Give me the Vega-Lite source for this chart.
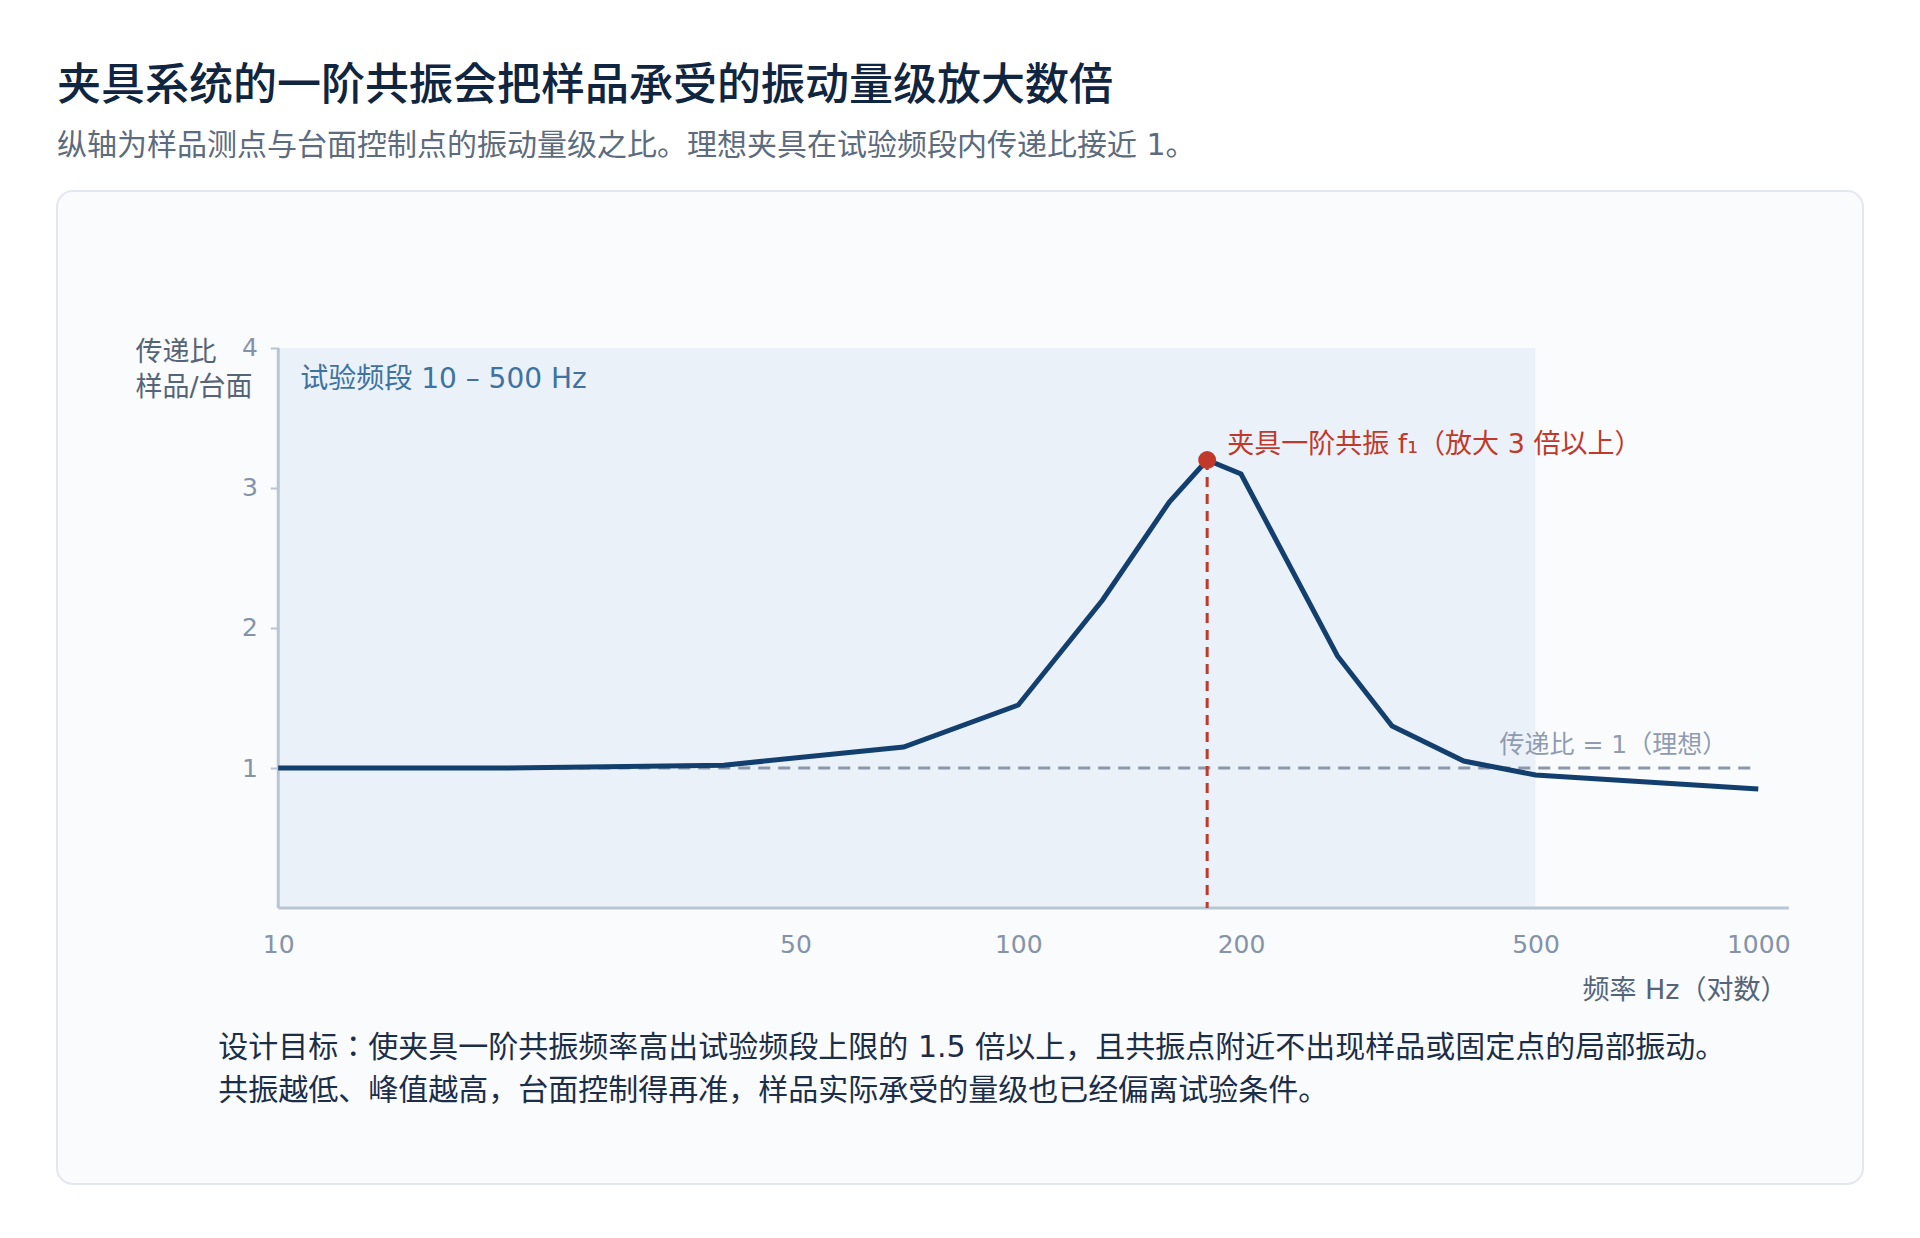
{
  "$schema": "https://vega.github.io/schema/vega-lite/v6.json",
  "width": 1806,
  "height": 993,
  "autosize": {"type": "none"},
  "padding": {"left": 57, "top": 191, "right": 57, "bottom": 54},
  "background": "#ffffff",
  "config": {
    "font": "DejaVu Sans, Noto Sans CJK JP, sans-serif",
    "view": {"fill": "#f9fbfd", "stroke": "#e3e8ef", "strokeWidth": 2, "cornerRadius": 16}
  },
  "title": {
    "text": "夹具系统的一阶共振会把样品承受的振动量级放大数倍",
    "subtitle": "纵轴为样品测点与台面控制点的振动量级之比。理想夹具在试验频段内传递比接近 1。",
    "anchor": "start",
    "frame": "group",
    "fontSize": 44,
    "fontWeight": 500,
    "color": "#10253f",
    "subtitleFontSize": 30,
    "subtitleColor": "#5d6b7e",
    "subtitlePadding": 22,
    "offset": 30
  },
  "datasets": {
    "curve": [
      {"f": 10, "v": 1.0},
      {"f": 20, "v": 1.0},
      {"f": 40, "v": 1.02},
      {"f": 70, "v": 1.15},
      {"f": 100, "v": 1.45},
      {"f": 130, "v": 2.2},
      {"f": 160, "v": 2.9},
      {"f": 180, "v": 3.2},
      {"f": 200, "v": 3.1},
      {"f": 270, "v": 1.8},
      {"f": 320, "v": 1.3},
      {"f": 400, "v": 1.05},
      {"f": 500, "v": 0.95},
      {"f": 1000, "v": 0.85}
    ],
    "band": [{"start": 10, "end": 500, "label": "试验频段 10 – 500 Hz"}],
    "peak": [{"f": 180, "v": 3.2, "label": "夹具一阶共振 f₁（放大 3 倍以上）"}],
    "ref": [{"from": 10, "to": 1000, "v": 1, "label": "传递比 = 1（理想）"}],
    "note": [{"text": "设计目标：使夹具一阶共振频率高出试验频段上限的 1.5 倍以上，且共振点附近不出现样品或固定点的局部振动。\n共振越低、峰值越高，台面控制得再准，样品实际承受的量级也已经偏离试验条件。"}]
  },
  "layer": [
    {
      "data": {"name": "band"},
      "mark": {"type": "rect", "fill": "#eaf1f9"},
      "encoding": {
        "x": {"field": "start", "type": "quantitative",
              "scale": {"type": "log", "domain": [5.0235, 1385.3], "nice": false, "zero": false},
              "axis": {"orient": "bottom", "offset": -276, "values": [10, 50, 100, 200, 500, 1000], "format": "d",
                       "domain": false, "grid": false, "ticks": false, "tickSize": 0, "labelPadding": 24,
                       "labelFontSize": 25, "labelColor": "#8593a8", "labelFlush": false, "labelOverlap": false,
                       "labelFont": "DejaVu Sans",
                       "title": "频率 Hz（对数）", "titleX": 1730, "titleY": 82, "titleAlign": "right",
                       "titleBaseline": "middle", "titleAngle": 0, "titleFontSize": 27, "titleFontWeight": "normal",
                       "titleColor": "#566477"}},
        "x2": {"field": "end"},
        "y": {"datum": 0, "type": "quantitative",
              "scale": {"domain": [-1.9714, 5.1214], "nice": false, "zero": false},
              "axis": {"orient": "left", "offset": -221.3, "values": [1, 2, 3, 4], "format": "d", "domain": false, "grid": false,
                       "ticks": true, "tickSize": 8, "tickWidth": 2, "tickColor": "#b9c5d3", "labelPadding": 13,
                       "labelFontSize": 25, "labelColor": "#8593a8", "labelFont": "DejaVu Sans",
                       "title": ["传递比", "样品/台面"], "titleAngle": 0, "titleAlign": "left", "titleBaseline": "middle",
                       "titleX": -143.3, "titleY": 161, "titleFontSize": 27, "titleFontWeight": "normal",
                       "titleColor": "#566477", "titleLineHeight": 35}},
        "y2": {"datum": 4}
      }
    },
    {
      "data": {"name": "band"},
      "mark": {"type": "text", "align": "left", "baseline": "middle", "dx": 22, "dy": 32, "fontSize": 28, "color": "#3e73a0"},
      "encoding": {
        "x": {"field": "start", "type": "quantitative"},
        "y": {"datum": 4, "type": "quantitative"},
        "text": {"field": "label"}
      }
    },
    {
      "data": {"name": "band"},
      "mark": {"type": "rule", "color": "#b9c5d3", "strokeWidth": 3},
      "encoding": {
        "x": {"datum": 10, "type": "quantitative"},
        "y": {"datum": 0, "type": "quantitative"},
        "y2": {"datum": 4}
      }
    },
    {
      "data": {"name": "band"},
      "mark": {"type": "rule", "color": "#b9c5d3", "strokeWidth": 3},
      "encoding": {
        "x": {"datum": 10, "type": "quantitative"},
        "x2": {"datum": 1100},
        "y": {"datum": 0, "type": "quantitative"}
      }
    },
    {
      "data": {"name": "ref"},
      "mark": {"type": "rule", "color": "#8c98aa", "strokeWidth": 3, "strokeDash": [12, 8]},
      "encoding": {
        "x": {"field": "from", "type": "quantitative"},
        "x2": {"field": "to"},
        "y": {"field": "v", "type": "quantitative"}
      }
    },
    {
      "data": {"name": "ref"},
      "mark": {"type": "text", "align": "right", "baseline": "middle", "dx": -31, "dy": -23, "fontSize": 25, "color": "#8e9bb0"},
      "encoding": {
        "x": {"field": "to", "type": "quantitative"},
        "y": {"field": "v", "type": "quantitative"},
        "text": {"field": "label"}
      }
    },
    {
      "data": {"name": "peak"},
      "mark": {"type": "rule", "color": "#c0392b", "strokeWidth": 3, "strokeDash": [10, 7]},
      "encoding": {
        "x": {"field": "f", "type": "quantitative"},
        "y": {"field": "v", "type": "quantitative"},
        "y2": {"datum": 0}
      }
    },
    {
      "data": {"name": "curve"},
      "mark": {"type": "line", "color": "#123f6e", "strokeWidth": 5},
      "encoding": {
        "x": {"field": "f", "type": "quantitative"},
        "y": {"field": "v", "type": "quantitative"}
      }
    },
    {
      "data": {"name": "peak"},
      "mark": {"type": "point", "filled": true, "size": 320, "color": "#c0392b", "opacity": 1},
      "encoding": {
        "x": {"field": "f", "type": "quantitative"},
        "y": {"field": "v", "type": "quantitative"}
      }
    },
    {
      "data": {"name": "peak"},
      "mark": {"type": "text", "align": "left", "baseline": "middle", "dx": 20, "dy": -15, "fontSize": 27, "color": "#c0392b"},
      "encoding": {
        "x": {"field": "f", "type": "quantitative"},
        "y": {"field": "v", "type": "quantitative"},
        "text": {"field": "label"}
      }
    },
    {
      "data": {"name": "note"},
      "mark": {"type": "text", "align": "left", "baseline": "middle", "lineBreak": "\n", "lineHeight": 43, "fontSize": 30, "color": "#1c2e47"},
      "encoding": {
        "x": {"datum": 8.3, "type": "quantitative"},
        "y": {"datum": -1.0, "type": "quantitative"},
        "text": {"field": "text"}
      }
    }
  ]
}
